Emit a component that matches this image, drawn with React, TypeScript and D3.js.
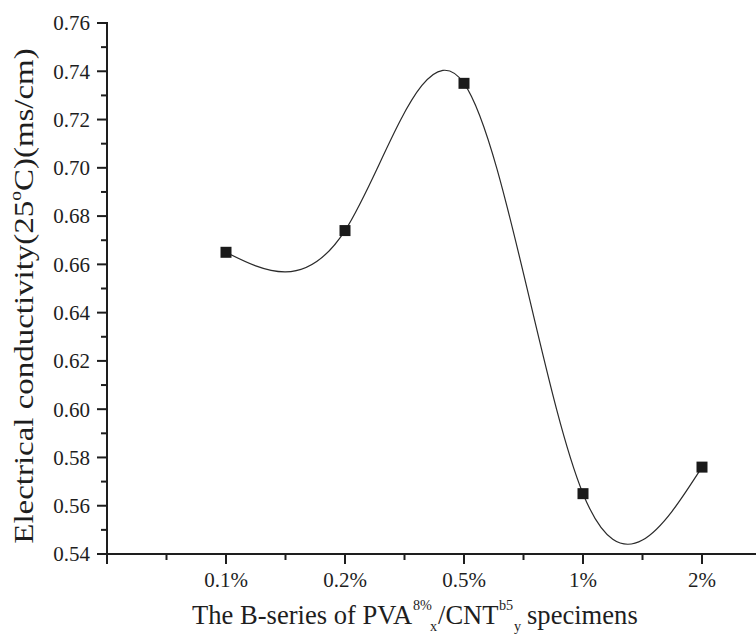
import React from "react";
import * as d3 from "d3";

const categories = ["0.1%", "0.2%", "0.5%", "1%", "2%"];
const conductivity = [0.665, 0.674, 0.735, 0.565, 0.576];
const yTickValues = [0.54, 0.56, 0.58, 0.6, 0.62, 0.64, 0.66, 0.68, 0.7, 0.72, 0.74, 0.76];
const yMinorValues = [0.55, 0.57, 0.59, 0.61, 0.63, 0.65, 0.67, 0.69, 0.71, 0.73, 0.75];
const xMinorValues = [0.5, 1.5, 2.5, 3.5, 4.5, 5.5];

const W = 756;
const H = 634;
const X0 = 107;
const STEP = 119;
const FONT = "'Liberation Serif', 'Times New Roman', serif";
const INK = "#1e1e1e";
const SX = 0.95;

export default function App() {
  const x = d3.scaleLinear().domain([0, 6]).range([X0, X0 + 6 * STEP]);
  const y = d3.scaleLinear().domain([0.54, 0.76]).range([554, 23]);

  const pts: [number, number][] = conductivity.map((v, i) => [x(i + 1), y(v)]);
  const line = d3.line().curve(d3.curveNatural)(pts) || "";

  const fmt = d3.format(".2f");

  return (
    <svg
      width={W}
      height={H}
      style={{ position: "absolute", left: 0, top: 0, background: "#fff" }}
      fontFamily={FONT}
    >
      <rect x={0} y={0} width={W} height={H} fill="#fff" />
      {/* y axis */}
      <line x1={X0} x2={X0} y1={y(0.76) - 1} y2={y(0.54)} stroke={INK} strokeWidth={2} />
      {yTickValues.map((t) => (
        <g key={"yt" + t}>
          <line x1={X0 - 10} x2={X0} y1={y(t)} y2={y(t)} stroke={INK} strokeWidth={2} />
          <text x={90} y={y(t)} dy="0.35em" textAnchor="end" fontSize={21} fill={INK}>
            {fmt(t)}
          </text>
        </g>
      ))}
      {yMinorValues.map((t) => (
        <line key={"ym" + t} x1={X0 - 6} x2={X0} y1={y(t)} y2={y(t)} stroke={INK} strokeWidth={2} />
      ))}
      {/* x axis */}
      <line x1={X0 - 1} x2={W} y1={554} y2={554} stroke={INK} strokeWidth={2} />
      {[0, 1, 2, 3, 4, 5].map((i) => (
        <line key={"xt" + i} x1={x(i)} x2={x(i)} y1={554} y2={564} stroke={INK} strokeWidth={2} />
      ))}
      {xMinorValues.map((i) => (
        <line key={"xm" + i} x1={x(i)} x2={x(i)} y1={554} y2={560} stroke={INK} strokeWidth={2} />
      ))}
      {categories.map((c, i) => (
        <text key={"xl" + c} x={x(i + 1)} y={587} textAnchor="middle" fontSize={21} fill={INK}>
          {c}
        </text>
      ))}
      {/* curve */}
      <path d={line} fill="none" stroke="#2a2a2a" strokeWidth={1.2} />
      {pts.map(([px, py], i) => (
        <rect key={"p" + i} x={px - 5.5} y={py - 5.5} width={11} height={11} fill="#1a1a1a" />
      ))}
      {/* y title */}
      <text
        transform="translate(33,296) rotate(-90) scale(1.22,1)"
        textAnchor="middle"
        fontSize={27}
        fill={INK}
      >
        Electrical conductivity(25
        <tspan fontSize={16} dy={-12}>o</tspan>
        <tspan dy={12}>C)(ms/cm)</tspan>
      </text>
      {/* x title */}
      <text transform={`scale(${SX},1)`} fontSize={28} fill={INK}>
        <tspan x={192 / SX} y={624}>The B-series of PVA</tspan>
        <tspan x={413 / SX} y={610} fontSize={15}>8%</tspan>
        <tspan x={430 / SX} y={631} fontSize={15}>x</tspan>
        <tspan x={438 / SX} y={624}>/CNT</tspan>
        <tspan x={499 / SX} y={610} fontSize={15}>b5</tspan>
        <tspan x={514 / SX} y={631} fontSize={15}>y</tspan>
        <tspan x={527 / SX} y={624}>specimens</tspan>
      </text>
    </svg>
  );
}
